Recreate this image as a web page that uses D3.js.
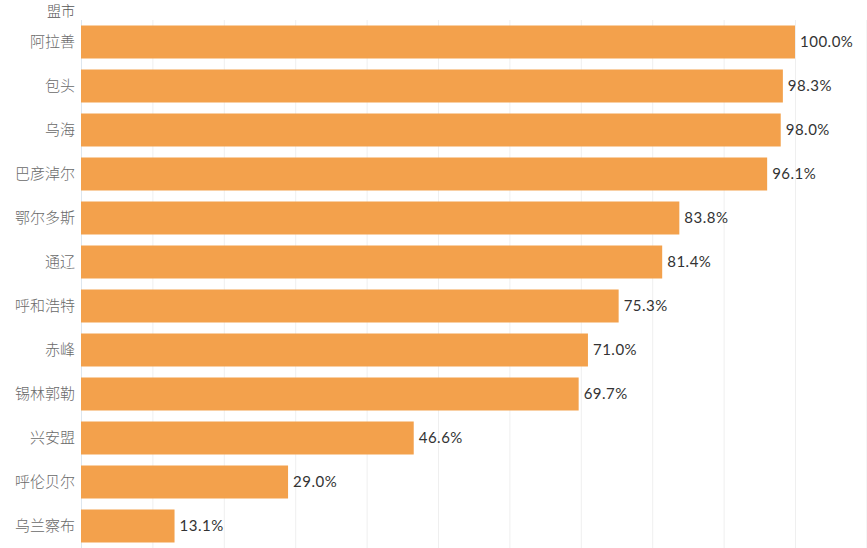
<!DOCTYPE html>
<html><head><meta charset="utf-8">
<script src="https://cdn.jsdelivr.net/npm/d3@7"></script>
<style>body{margin:0;background:#fff}svg{display:block}</style>
</head><body>
<svg id="c" width="867" height="548"></svg>
<script>
const categories = ["阿拉善","包头","乌海","巴彦淖尔","鄂尔多斯","通辽","呼和浩特","赤峰","锡林郭勒","兴安盟","呼伦贝尔","乌兰察布"];
const values = [100.0,98.3,98.0,96.1,83.8,81.4,75.3,71.0,69.7,46.6,29.0,13.1];
const gridTicks = [0,10,20,30,40,50,60,70,80,90,100,110];
const headerLabel = "盟市";

const svg = d3.select("#c");
const x = d3.scaleLinear().domain([0,100]).range([81,795]);
const y = d3.scaleBand().domain(categories).range([20,548]).paddingInner(0.25).paddingOuter(0.125);

svg.append("g").selectAll("line").data(gridTicks).join("line")
  .attr("x1",d=>x(d)+0.5).attr("x2",d=>x(d)+0.5).attr("y1",20).attr("y2",548)
  .attr("stroke",d=>d===0?"#dde6ee":"#efefef").attr("stroke-width",1);

svg.append("g").selectAll("rect").data(values).join("rect")
  .attr("x",x(0)).attr("y",(d,i)=>y(categories[i]))
  .attr("width",d=>x(d)-x(0)).attr("height",y.bandwidth())
  .attr("fill","#F3A14C");

svg.append("g").selectAll("text").data(categories).join("text")
  .attr("x",75).attr("y",d=>y(d)+y.bandwidth()/2).attr("dy","0.35em")
  .attr("text-anchor","end").attr("fill","#6a6a6a")
  .style("font-family","'Noto Sans CJK SC'").style("font-size","15px").style("font-weight","300")
  .text(d=>d);

svg.append("g").selectAll("text").data(values).join("text")
  .attr("x",d=>x(d)+5).attr("y",(d,i)=>y(categories[i])+y.bandwidth()/2).attr("dy","0.36em")
  .attr("fill","#333")
  .style("font-family","Lato, 'Open Sans', sans-serif").style("font-size","15px")
  .style("letter-spacing","0.5px")
  .text(d=>d.toFixed(1)+"%");

svg.append("text").attr("x",75).attr("y",16)
  .attr("text-anchor","end").attr("fill","#555")
  .style("font-family","'Noto Sans CJK SC'").style("font-size","14px").style("font-weight","300")
  .text(headerLabel);
</script>
</body></html>
